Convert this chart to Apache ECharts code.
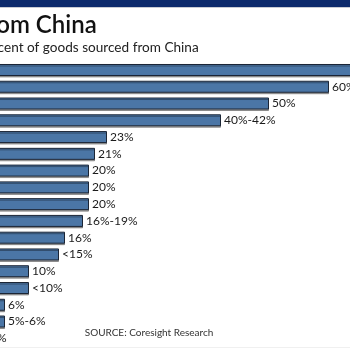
<!DOCTYPE html>
<html><head><meta charset="utf-8">
<script src="https://cdn.jsdelivr.net/npm/echarts@6/dist/echarts.min.js"></script>
<style>html,body{margin:0;padding:0;background:#fff;overflow:hidden}#wrap{position:relative;width:350px;height:350px;overflow:hidden}#c{position:absolute;left:-30.7px;top:0;width:480px;height:350px}</style>
</head><body><div id="wrap"><div id="c"></div></div>
<script>
const categories = ['Retailer 1','Retailer 2','Retailer 3','Retailer 4','Retailer 5','Retailer 6','Retailer 7','Retailer 8','Retailer 9','Retailer 10','Retailer 11','Retailer 12','Retailer 13','Retailer 14','Retailer 15','Retailer 16','Retailer 17'];
const values = [70, 60, 50, 42, 23, 21, 20, 20, 20, 19, 16, 15, 10, 10, 6, 6, 3];
const valueLabels = ['70%','60%','50%','40%-42%','23%','21%','20%','20%','20%','16%-19%','16%','<15%','10%','<10%','6%','5%-6%','3%'];
const titleText = 'Sourcing from China';
const subtitleText = 'Percent of goods sourced from China';
const sourceText = 'SOURCE: Coresight Research';

const OX = 30.7; // page offset of chart canvas
const chart = echarts.init(document.getElementById('c'));
chart.setOption({
  animation: false,
  grid: { left: 0, right: 0, top: 61.6, bottom: 3.3, containLabel: false },
  xAxis: { type: 'value', min: 0, max: 80, show: false },
  yAxis: { type: 'category', data: categories, inverse: true, show: false },
  graphic: [
    { type: 'rect', shape: { x: 0, y: 0, width: 480, height: 7 }, style: { fill: '#0c2a6c' } },
    { type: 'rect', shape: { x: 0, y: 7, width: 480, height: 1 }, style: { fill: '#c9ccd4' } },
    { type: 'rect', shape: { x: 0, y: 347, width: 480, height: 1 }, style: { fill: '#f0f0f0' } },
    { type: 'text', x: 97 + OX, y: 37, style: { text: titleText, textAlign: 'right', textVerticalAlign: 'bottom', font: '600 24px Lato', fill: '#111' } },
    { type: 'text', x: 199 + OX, y: 54.5, style: { text: subtitleText, textAlign: 'right', textVerticalAlign: 'bottom', font: '13.6px Lato', fill: '#222' } },
    { type: 'text', x: 85 + OX, y: 338, style: { text: sourceText, textAlign: 'left', textVerticalAlign: 'bottom', font: '10px Lato', fill: '#333' } }
  ],
  series: [{
    type: 'bar',
    data: values,
    barWidth: 12,
    itemStyle: { color: '#4b76a6', borderColor: '#1b2535', borderWidth: 1, shadowColor: 'rgba(0,0,0,0.35)', shadowOffsetY: 1.5, shadowBlur: 0 },
    label: { show: true, position: 'right', distance: 3, color: '#1a1a1a', fontFamily: 'Lato', fontSize: 12,
      formatter: p => valueLabels[p.dataIndex] }
  }]
});
</script></body></html>
